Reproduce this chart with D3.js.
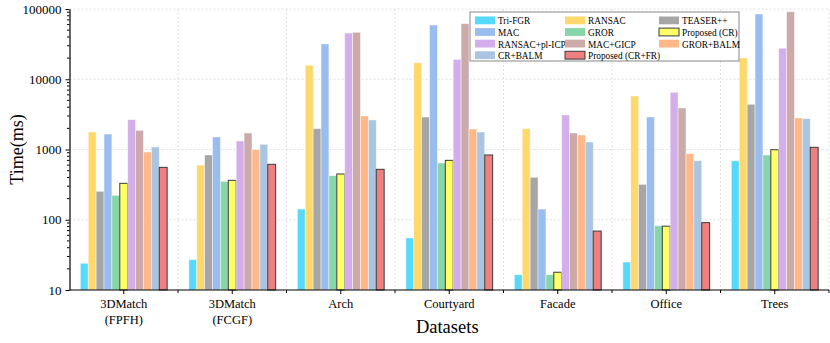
<!doctype html>
<html lang="en">
<head>
<meta charset="utf-8">
<style>
body, html { margin:0; padding:0; background:white; overflow:hidden; }
svg text { font-family: "Liberation Serif", "Times New Roman", serif; fill:#000; }
</style>
</head>
<body>
<div id="chart"></div>
<script src="https://cdn.jsdelivr.net/npm/d3@7"></script>
<script>

const datasets = ["3DMatch\n(FPFH)", "3DMatch\n(FCGF)", "Arch", "Courtyard", "Facade", "Office", "Trees"];

const methods = ["Tri-FGR", "RANSAC", "TEASER++", "MAC", "GROR", "Proposed (CR)",
                 "RANSAC+pl-ICP", "MAC+GICP", "GROR+BALM", "CR+BALM", "Proposed (CR+FR)"];

const colors = ["#56d9fb", "#ffd86c", "#a6a6a6", "#9abdf0", "#86d6a9", "#ffff66",
                "#d4aeea", "#ccaaaa", "#ffb88a", "#a9c5e2", "#f08080"];

// time in ms, one array per method, in dataset order
const triFGR     = [24, 27, 142, 55, 16.5, 25, 690];
const ransac     = [1780, 600, 15800, 17200, 1980, 5780, 20100];
const teaser     = [254, 835, 1980, 2900, 402, 319, 4400];
const mac        = [1660, 1510, 31800, 59200, 142, 2900, 84900];
const gror       = [222, 352, 424, 642, 16.5, 82, 835];
const propCR     = [330, 364, 448, 701, 17.9, 81, 993];
const ransacICP  = [2660, 1320, 45500, 19200, 3100, 6520, 27600];
const macGICP    = [1875, 1717, 46600, 61800, 1717, 3900, 91600];
const grorBALM   = [921, 993, 3000, 1958, 1608, 873, 2810];
const crBALM     = [1086, 1186, 2630, 1775, 1279, 693, 2750];
const propCRFR   = [557, 615, 522, 835, 69, 91, 1075];

const series = [triFGR, ransac, teaser, mac, gror, propCR, ransacICP, macGICP, grorBALM, crBALM, propCRFR];

const yTicks = [10, 100, 1000, 10000, 100000];

const W = 830, H = 343;
const mLeft = 69.5, mRight = 829, mTop = 9, mBottom = 290;
const serif = "Liberation Serif, Times New Roman, serif";

const svg = d3.select("#chart").append("svg").attr("width", W).attr("height", H);

const x0 = d3.scaleBand().domain(datasets).range([mLeft, mRight]).padding(0);
const x1 = d3.scaleBand().domain(methods)
  .range([x0.bandwidth() * 0.1, x0.bandwidth() * 0.9]).padding(0);
const y = d3.scaleLog().domain([10, 100000]).range([mBottom, mTop]);

// grid
const grid = svg.append("g").attr("stroke", "#d8d8d8").attr("stroke-width", 0.8)
  .attr("stroke-dasharray", "2,2");
grid.selectAll(".hg").data(yTicks.slice(1)).enter().append("line")
  .attr("x1", mLeft).attr("x2", mRight)
  .attr("y1", d => y(d)).attr("y2", d => y(d));
grid.selectAll(".vg").data(datasets).enter().append("line")
  .attr("x1", d => x0(d) + x0.bandwidth()).attr("x2", d => x0(d) + x0.bandwidth())
  .attr("y1", mTop).attr("y2", mBottom);

// bars
const groups = svg.append("g").selectAll("g").data(datasets).enter().append("g")
  .attr("transform", d => `translate(${x0(d)},0)`);

groups.selectAll("rect")
  .data((d, i) => methods.map((m, j) => ({m: m, j: j, v: series[j][i]})))
  .enter().append("rect")
  .attr("x", d => x1(d.m))
  .attr("width", x1.bandwidth())
  .attr("y", d => y(d.v))
  .attr("height", d => mBottom - y(d.v))
  .attr("fill", d => colors[d.j])
  .attr("stroke", d => d.m.startsWith("Proposed") ? "#3a3a3a" : "rgba(255,255,255,0.55)")
  .attr("stroke-width", d => d.m.startsWith("Proposed") ? 1 : 0.8);

// y axis
const yAxis = d3.axisLeft(y)
  .tickValues(yTicks)
  .tickFormat(d3.format("d"))
  .tickSize(4).tickSizeOuter(0);
const ya = svg.append("g").attr("transform", `translate(${mLeft},0)`).call(yAxis)
  .attr("font-family", serif);
ya.selectAll("text").style("font-size", "13px").attr("dx", "-1");
ya.select(".domain").attr("stroke", "#000").attr("stroke-width", 1.2);

const minor = [];
for (let e = 1; e < 5; e++) for (let k = 2; k < 10; k++) minor.push(k * Math.pow(10, e));
ya.selectAll(".minor").data(minor).enter().append("line")
  .attr("x1", 0).attr("x2", -2.5)
  .attr("y1", d => y(d)).attr("y2", d => y(d))
  .attr("stroke", "#000");

// x axis
const xa = svg.append("g").attr("transform", `translate(0,${mBottom})`);
xa.append("line").attr("x1", mLeft).attr("x2", mRight).attr("stroke", "#000").attr("stroke-width", 1.2);
xa.selectAll(".tk").data(datasets).enter().append("line")
  .attr("x1", d => x0(d) + x0.bandwidth() / 2).attr("x2", d => x0(d) + x0.bandwidth() / 2)
  .attr("y1", 0).attr("y2", 4).attr("stroke", "#000");
xa.selectAll(".mtk").data(datasets).enter().append("line")
  .attr("x1", d => x0(d) + x0.bandwidth()).attr("x2", d => x0(d) + x0.bandwidth())
  .attr("y1", 0).attr("y2", 3).attr("stroke", "#000");
const xl = xa.selectAll(".lb").data(datasets).enter().append("text")
  .attr("text-anchor", "middle")
  .attr("transform", d => `translate(${x0(d) + x0.bandwidth() / 2},18)`)
  .style("font-size", "12.5px");
xl.selectAll("tspan").data(d => d.split("\n")).enter().append("tspan")
  .attr("x", 0).attr("dy", (d, i) => i === 0 ? 0 : 16).text(d => d);

// titles
svg.append("text").attr("x", (mLeft + mRight) / 2 - 2).attr("y", 333)
  .attr("text-anchor", "middle").style("font-size", "18.5px").text("Datasets");
svg.append("text").attr("transform", `translate(23,${(mTop + mBottom) / 2}) rotate(-90)`)
  .attr("text-anchor", "middle").style("font-size", "18px").text("Time(ms)");

// legend
const lg = svg.append("g").attr("transform", "translate(470,12)");
lg.append("rect").attr("width", 269).attr("height", 49)
  .attr("fill", "white").attr("stroke", "#888").attr("stroke-width", 1);
const colX = [5, 95, 189];
const item = lg.selectAll(".it").data(methods).enter().append("g")
  .attr("transform", (d, i) => `translate(${colX[i % 3]},${4.5 + Math.floor(i / 3) * 11.6})`);
item.append("rect").attr("width", 20).attr("height", 7.8)
  .attr("fill", (d, i) => colors[i])
  .attr("stroke", d => d.startsWith("Proposed") ? "#3a3a3a" : "none")
  .attr("stroke-width", 1);
item.append("text").attr("x", 23).attr("y", 7.8)
  .attr("font-family", serif)
  .style("font-size", "9.3px").text(d => d);

</script>
</body>
</html>
